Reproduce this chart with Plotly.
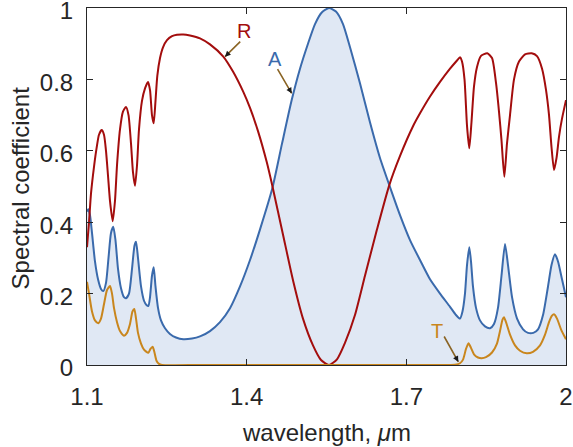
import plotly.graph_objects as go

# Reflection R
wl_R = [1.1000, 1.1038, 1.1075, 1.1132, 1.1188, 1.1225, 1.1276, 1.1319, 1.1357, 1.1395, 1.1432, 1.1483,
        1.1526, 1.1564, 1.1620, 1.1676, 1.1733, 1.1780, 1.1827, 1.1864, 1.1902, 1.1940, 1.1977, 1.2033,
        1.2090, 1.2146, 1.2184, 1.2221, 1.2253, 1.2287, 1.2321, 1.2372, 1.2428, 1.2503, 1.2597, 1.2691,
        1.2809, 1.2935, 1.3123, 1.3311, 1.3561, 1.3743, 1.3937, 1.4063, 1.4213, 1.4376, 1.4482, 1.4683,
        1.4876, 1.5058, 1.5246, 1.5397, 1.5547, 1.5697, 1.5847, 1.6035, 1.6223, 1.6449, 1.6680, 1.6880,
        1.7130, 1.7257, 1.7445, 1.7633, 1.7821, 1.7952, 1.8008, 1.8046, 1.8093, 1.8140, 1.8183, 1.8224,
        1.8271, 1.8328, 1.8403, 1.8521, 1.8610, 1.8685, 1.8741, 1.8788, 1.8841, 1.8891, 1.8948, 1.9023,
        1.9117, 1.9230, 1.9356, 1.9455, 1.9550, 1.9625, 1.9681, 1.9728, 1.9775, 1.9822, 1.9869, 1.9925,
        2.0000]
R = [0.33, 0.40, 0.48, 0.556, 0.615, 0.645, 0.658, 0.645, 0.60, 0.53, 0.46, 0.403,
     0.46, 0.56, 0.66, 0.71, 0.723, 0.70, 0.62, 0.54, 0.502, 0.56, 0.66, 0.74,
     0.775, 0.793, 0.77, 0.70, 0.677, 0.74, 0.81, 0.86, 0.89, 0.91, 0.921, 0.925,
     0.926, 0.923, 0.915, 0.898, 0.864, 0.822, 0.765, 0.72, 0.655, 0.569, 0.502, 0.365,
     0.234, 0.13, 0.055, 0.014, 0.0, 0.016, 0.062, 0.14, 0.25, 0.38, 0.504, 0.585,
     0.67, 0.705, 0.752, 0.793, 0.83, 0.853, 0.862, 0.85, 0.80, 0.67, 0.607, 0.68,
     0.78, 0.835, 0.866, 0.873, 0.86, 0.79, 0.71, 0.63, 0.527, 0.62, 0.70, 0.80,
     0.85, 0.87, 0.873, 0.865, 0.83, 0.77, 0.70, 0.61, 0.546, 0.58, 0.64, 0.69,
     0.742]

# Absorption A
wl_A = [1.1000, 1.1024, 1.1056, 1.1094, 1.1150, 1.1207, 1.1263, 1.1306, 1.1357, 1.1404, 1.1451, 1.1494,
        1.1535, 1.1582, 1.1639, 1.1695, 1.1733, 1.1789, 1.1846, 1.1893, 1.1921, 1.1958, 1.2015, 1.2071,
        1.2118, 1.2152, 1.2184, 1.2221, 1.2253, 1.2287, 1.2334, 1.2390, 1.2466, 1.2559, 1.2672, 1.2809,
        1.2973, 1.3123, 1.3311, 1.3499, 1.3687, 1.3875, 1.4063, 1.4251, 1.4482, 1.4664, 1.4846, 1.5002,
        1.5152, 1.5284, 1.5415, 1.5547, 1.5678, 1.5810, 1.5942, 1.6129, 1.6317, 1.6505, 1.6680, 1.6881,
        1.7069, 1.7257, 1.7445, 1.7633, 1.7821, 1.7933, 1.8008, 1.8055, 1.8102, 1.8140, 1.8183, 1.8215,
        1.8252, 1.8309, 1.8384, 1.8478, 1.8572, 1.8647, 1.8722, 1.8788, 1.8854, 1.8910, 1.8986, 1.9080,
        1.9193, 1.9286, 1.9386, 1.9474, 1.9568, 1.9662, 1.9728, 1.9793, 1.9850, 1.9925, 2.0000]
A = [0.43, 0.436, 0.42, 0.37, 0.29, 0.24, 0.213, 0.207, 0.23, 0.30, 0.37, 0.387,
     0.35, 0.27, 0.215, 0.19, 0.187, 0.20, 0.27, 0.335, 0.345, 0.30, 0.22, 0.18,
     0.168, 0.165, 0.19, 0.25, 0.274, 0.22, 0.16, 0.125, 0.103, 0.087, 0.077, 0.072,
     0.074, 0.08, 0.095, 0.12, 0.159, 0.22, 0.294, 0.38, 0.495, 0.62, 0.742, 0.83,
     0.90, 0.955, 0.988, 1.0, 0.99, 0.955, 0.89, 0.789, 0.68, 0.58, 0.504, 0.42,
     0.35, 0.294, 0.24, 0.20, 0.163, 0.14, 0.13, 0.15, 0.20, 0.28, 0.33, 0.29,
     0.22, 0.16, 0.125, 0.108, 0.103, 0.115, 0.16, 0.25, 0.339, 0.28, 0.19, 0.13,
     0.10, 0.09, 0.09, 0.10, 0.14, 0.22, 0.28, 0.31, 0.29, 0.24, 0.19]

# Transmission T
wl_T = [1.1000, 1.1038, 1.1094, 1.1150, 1.1212, 1.1263, 1.1319, 1.1376, 1.1432, 1.1470, 1.1507, 1.1564,
        1.1620, 1.1695, 1.1752, 1.1808, 1.1855, 1.1889, 1.1921, 1.1958, 1.2015, 1.2071, 1.2152, 1.2193,
        1.2234, 1.2268, 1.2306, 1.2353, 1.2409, 1.3123, 1.4063, 1.5002, 1.6129, 1.7069, 1.7633, 1.7915,
        1.8008, 1.8065, 1.8121, 1.8168, 1.8215, 1.8271, 1.8346, 1.8416, 1.8497, 1.8610, 1.8703, 1.8760,
        1.8807, 1.8835, 1.8873, 1.8948, 1.9042, 1.9136, 1.9262, 1.9380, 1.9512, 1.9606, 1.9681, 1.9737,
        1.9775, 1.9831, 1.9906, 2.0000]
T = [0.233, 0.20, 0.15, 0.125, 0.117, 0.13, 0.17, 0.21, 0.221, 0.20, 0.16, 0.12,
     0.095, 0.082, 0.09, 0.115, 0.15, 0.157, 0.13, 0.09, 0.06, 0.043, 0.034, 0.045,
     0.051, 0.035, 0.012, 0.003, 0.0, 0.0, 0.0, 0.0, 0.0, 0.0, 0.0, 0.001,
     0.005, 0.015, 0.045, 0.061, 0.048, 0.03, 0.021, 0.019, 0.022, 0.035, 0.06, 0.095,
     0.127, 0.134, 0.12, 0.085, 0.055, 0.04, 0.033, 0.037, 0.055, 0.085, 0.12, 0.138,
     0.142, 0.13, 0.10, 0.072]

x_ticks = [1.1, 1.4, 1.7, 2.0]
x_ticktext = ["1.1", "1.4", "1.7", "2"]
y_ticks = [0, 0.2, 0.4, 0.6, 0.8, 1.0]
y_ticktext = ["0", "0.2", "0.4", "0.6", "0.8", "1"]

c_R = "#a30d0d"
c_A = "#3a6aac"
c_T = "#c9861d"
c_fill = "#e0e8f4"
c_axis = "#262626"
c_arrow = "#8a6424"
FONT = "Liberation Sans, Arial, Helvetica, sans-serif"

fig = go.Figure()
fig.add_trace(go.Scatter(x=wl_A, y=A, mode="lines", fill="tozeroy", fillcolor=c_fill,
                         line=dict(color=c_A, width=2, shape="spline", smoothing=0.6),
                         showlegend=False, hoverinfo="skip"))
fig.add_trace(go.Scatter(x=wl_R, y=R, mode="lines",
                         line=dict(color=c_R, width=2, shape="spline", smoothing=0.6),
                         showlegend=False))
fig.add_trace(go.Scatter(x=wl_T, y=T, mode="lines",
                         line=dict(color=c_T, width=2, shape="spline", smoothing=0.6),
                         showlegend=False))

# text labels
labels = [("R", 1.3956, 0.9356, c_R), ("A", 1.4532, 0.856, c_A), ("T", 1.7582, 0.095, c_T)]
for txt, x, y, c in labels:
    fig.add_annotation(x=x, y=y, xref="x", yref="y", text=txt, showarrow=False,
                       font=dict(family=FONT, size=20, color=c))

arrows = [(1.3907, 0.910, 1.3593, 0.8636), (1.4564, 0.833, 1.4846, 0.761), (1.7695, 0.084, 1.7977, 0.009)]
for x0, y0, x1, y1 in arrows:
    fig.add_annotation(x=x1, y=y1, ax=x0, ay=y0, xref="x", yref="y", axref="x", ayref="y",
                       text="", showarrow=True, arrowhead=0, arrowwidth=1.6,
                       arrowcolor=c_arrow, standoff=0)
    hx = x1 - (x1 - x0) * 0.25
    hy = y1 - (y1 - y0) * 0.25
    fig.add_annotation(x=x1, y=y1, ax=hx, ay=hy, xref="x", yref="y", axref="x", ayref="y",
                       text="", showarrow=True, arrowhead=2, arrowsize=0.8, arrowwidth=1.4,
                       arrowcolor="#1a1a1a", standoff=0)

# axis titles
fig.add_annotation(x=0.5004, y=-0.19, xref="paper", yref="paper", text="wavelength, <i>μ</i>m",
                   showarrow=False, xanchor="center", yanchor="middle",
                   font=dict(family=FONT, size=24, color=c_axis))
fig.add_annotation(x=-0.138, y=0.497, xref="paper", yref="paper", text="Spectral coefficient",
                   showarrow=False, xanchor="center", yanchor="middle", textangle=-90,
                   font=dict(family=FONT, size=24, color=c_axis))

fig.update_xaxes(range=[1.1, 2.0], tickvals=x_ticks, ticktext=x_ticktext,
                 ticks="inside", ticklen=6, tickcolor=c_axis, tickwidth=1,
                 showline=True, linecolor=c_axis, linewidth=1, mirror="ticks",
                 showgrid=False, zeroline=False, automargin=False,
                 ticklabeloverflow="allow",
                 tickfont=dict(family=FONT, size=24, color=c_axis),
                 ticklabelstandoff=10)
fig.update_yaxes(range=[0, 1.0], tickvals=y_ticks, ticktext=y_ticktext,
                 ticks="inside", ticklen=6, tickcolor=c_axis, tickwidth=1,
                 showline=True, linecolor=c_axis, linewidth=1, mirror="ticks",
                 showgrid=False, zeroline=False, automargin=False,
                 ticklabeloverflow="allow", ticklabelshift=3,
                 tickfont=dict(family=FONT, size=24, color=c_axis),
                 ticklabelstandoff=8)

fig.update_layout(width=573, height=447, margin=dict(l=87, r=7, t=8, b=82),
                  plot_bgcolor="white", paper_bgcolor="white", showlegend=False)

fig.write_html("out.html", config={"displayModeBar": False},
               post_script="document.body.style.margin='0';document.body.style.overflow='hidden';")
